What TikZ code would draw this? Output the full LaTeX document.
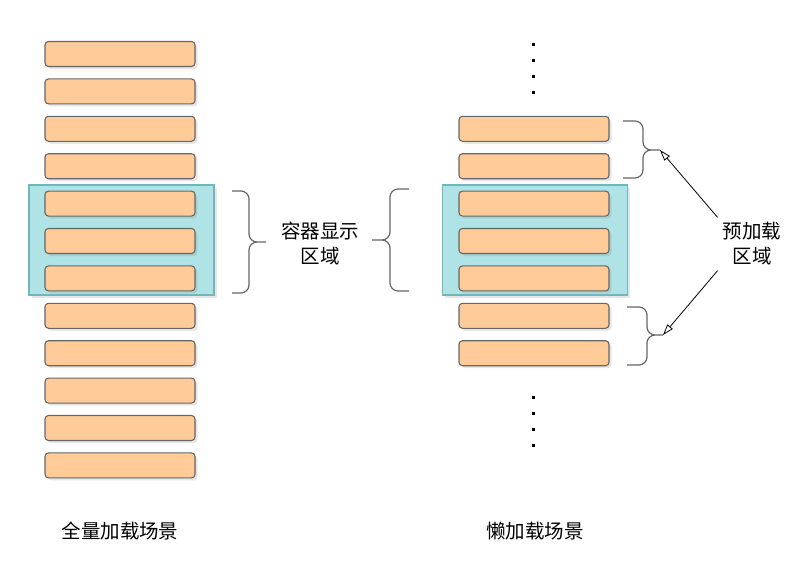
\documentclass[tikz,border=0pt]{standalone}
\usepackage{fontspec}
\setmainfont{Noto Sans CJK SC}
\usetikzlibrary{shadows,arrows.meta}
\definecolor{barfill}{HTML}{FFCC99}
\definecolor{barline}{HTML}{666666}
\definecolor{viewfill}{HTML}{B0E3E6}
\definecolor{viewline}{HTML}{6DB8BB}
\tikzset{>={Triangle[open,length=11pt,width=7pt]},
  softshadow/.style={drop shadow={opacity=0.2,shadow xshift=2.5pt,shadow yshift=-2.5pt}},
  bar/.style={draw=barline,fill=barfill,line width=1.1pt,rounded corners=3.5pt,
    minimum width=150pt,minimum height=25pt,inner sep=0pt,softshadow},
  viewbox/.style={draw=viewline,fill=viewfill,line width=1.5pt,
    minimum width=185pt,minimum height=110pt,inner sep=0pt,softshadow},
  bracket/.style={draw=barline,line width=1.2pt,rounded corners=8pt},
  note/.style={font=\fontsize{19.5}{25}\selectfont,align=center,inner sep=5pt}
}

\begin{document}
\begin{tikzpicture}[x=1pt,y=-1pt]
  \useasboundingbox (0,0) rectangle (812,568);
  % visible area behind the items
  \node[viewbox] (fullview) at (121.5,240) {};
  \node[viewbox] (lazyview) at (535,240) {};
  % items
  \foreach \i in {0,...,11}
    \node[bar] (full\i) at (120,54+37.4*\i) {};
  \foreach \i in {2,...,8}
    \node[bar] (lazy\i) at (534,54+37.4*\i) {};
  % more items above and below
  \foreach \k in {0,...,3} {
    \fill (531.5,42.5+16*\k) rectangle +(3,3);
    \fill (531.5,395.5+16.3*\k) rectangle +(3,3);
  }
  % labels
  \node[note] (viewlabel) at (320,244) {容器显示\\区域};
  \node[note] (prelabel) at (752,244) {预加载\\区域};
  \node[note] (fulltitle) at (120,531) {全量加载场景};
  \node[note] (lazytitle) at (535,531) {懒加载场景};
  % braces
  \coordinate (viewA) at (232,191);
  \coordinate (viewB) at (232,293);
  \coordinate (viewM) at (249,242);
  \coordinate (viewT) at (266,242);
  \coordinate (lazyA) at (409,189);
  \coordinate (lazyB) at (409,291);
  \coordinate (lazyM) at (390,240);
  \coordinate (lazyT) at (372,240);
  \coordinate (preA) at (623,121);
  \coordinate (preB) at (623,178);
  \coordinate (preM) at (643,150);
  \coordinate (pretop) at (660,150);
  \coordinate (preC) at (627,307);
  \coordinate (preD) at (627,365);
  \coordinate (preN) at (647,335);
  \coordinate (prebot) at (663,335);
  \draw[bracket] (viewA) -| (viewM) -- (viewT) (viewB) -| (viewM) -- (viewT);
  \draw[bracket] (lazyA) -| (lazyM) -- (lazyT) (lazyB) -| (lazyM) -- (lazyT);
  \draw[bracket] (preA) -| (preM) -- (pretop) (preB) -| (preM) -- (pretop);
  \draw[bracket] (preC) -| (preN) -- (prebot) (preD) -| (preN) -- (prebot);
  \begin{scope}[->,line width=0.8pt]
    \draw (prelabel.north west) -- (pretop);
    \draw (prelabel.south west) -- (prebot);
  \end{scope}
\end{tikzpicture}
\end{document}
